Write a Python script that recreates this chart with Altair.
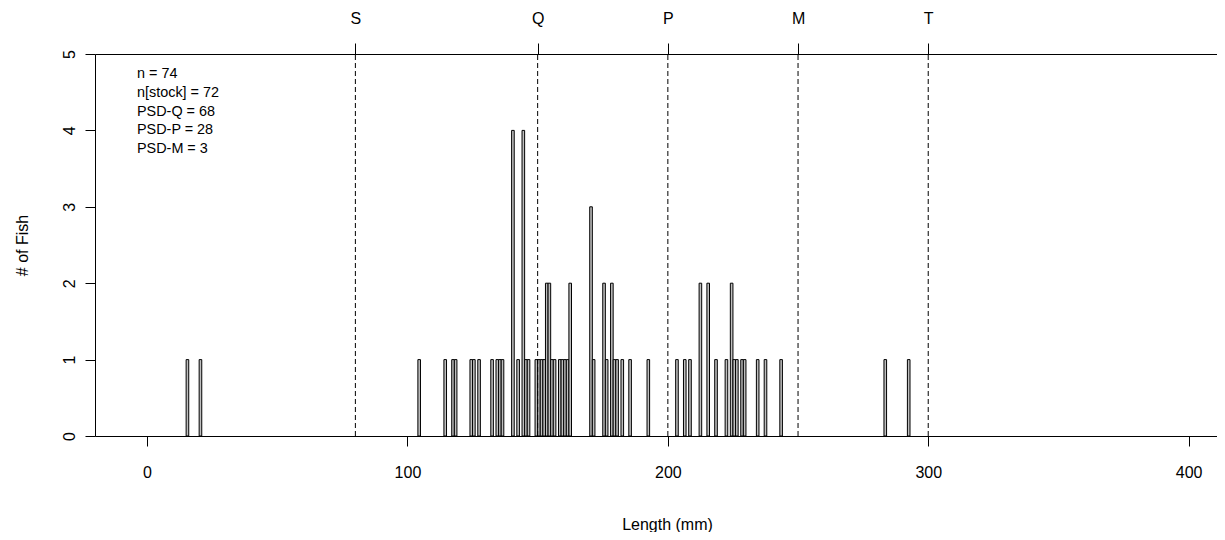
import altair as alt
import pandas as pd

# ---- data ----
bin_start = [15, 20, 104, 114, 117, 118, 124, 125, 127, 132, 134, 135, 136,
             140, 142, 144, 145, 146, 149, 150, 151, 152, 153, 154, 155, 156,
             158, 159, 160, 161, 162, 170, 171, 175, 176, 178, 179, 180, 182,
             185, 192, 203, 206, 208, 212, 215, 218, 222, 224, 225, 226, 228,
             229, 234, 237, 243, 283, 292]
fish_count = [1, 1, 1, 1, 1, 1, 1, 1, 1, 1, 1, 1, 1,
              4, 1, 4, 1, 1, 1, 1, 1, 1, 2, 2, 1, 1,
              1, 1, 1, 1, 2, 3, 1, 2, 1, 2, 1, 1, 1,
              1, 1, 1, 1, 1, 2, 2, 1, 1, 2, 1, 1, 1,
              1, 1, 1, 1, 1, 1]
psd_breaks = [80, 150, 200, 250, 300]
psd_letters = ["S", "Q", "P", "M", "T"]
stats_lines = ["n = 74", "n[stock] = 72", "PSD-Q = 68", "PSD-P = 28", "PSD-M = 3"]
x_ticks = [0, 100, 200, 300, 400]
y_ticks = [0, 1, 2, 3, 4, 5]

FONT = "Liberation Sans"
W, H = 1122, 382
x_scale = alt.Scale(domain=[-20.0, 410.9], nice=False, zero=False)
y_scale = alt.Scale(domain=[0, 5], nice=False, zero=True)

hist_df = pd.DataFrame({"lo": bin_start, "count": fish_count})
psd_df = pd.DataFrame({"brk": psd_breaks, "letter": psd_letters})
stats_df = pd.DataFrame({"t": ["\n".join(stats_lines)]})

label_map = "{" + ",".join(f"'{b}':'{l}'" for b, l in zip(psd_breaks, psd_letters)) + "}"

bars = alt.Chart(hist_df).transform_calculate(
    hi="datum.lo + 1", base="0"
).mark_rect(fill="#bebebe", stroke="black", strokeWidth=1).encode(
    x=alt.X("lo:Q", scale=x_scale,
            axis=alt.Axis(orient="bottom", values=x_ticks, title="Length (mm)",
                          tickSize=10, labelPadding=18, format="d",
                          titleX=572, titleY=88, titleBaseline="middle")),
    x2="hi:Q",
    y=alt.Y("count:Q", scale=y_scale,
            axis=alt.Axis(values=y_ticks, title="# of Fish", tickSize=10,
                          labelAngle=270, labelAlign="center", labelBaseline="bottom",
                          labelPadding=8, format="d",
                          titleX=-73, titleY=191, titleBaseline="middle")),
    y2="base:Q",
)

rules = alt.Chart(psd_df).transform_calculate(
    y0="0", y1="5"
).mark_rule(color="black", strokeWidth=1, strokeDash=[5, 3]).encode(
    x=alt.X("brk:Q", scale=x_scale,
            axis=alt.Axis(orient="top", values=psd_breaks, title=None,
                          tickSize=11, labelPadding=17,
                          labelExpr=label_map + "[datum.label]")),
    y=alt.Y("y0:Q", scale=y_scale),
    y2="y1:Q",
)

stats = alt.Chart(stats_df).mark_text(
    align="left", baseline="top", lineBreak="\n", lineHeight=18.75,
    fontSize=14.4, font=FONT, color="black"
).encode(x=alt.value(42), y=alt.value(13), text="t:N")

chart = alt.layer(bars, rules, stats).resolve_axis(x="independent").properties(
    width=W, height=H,
    autosize=alt.AutoSizeParams(type="none"),
    padding={"left": 87, "top": 46, "right": 0, "bottom": 96},
).configure_view(stroke=None).configure_axis(
    grid=False, domainColor="black", tickColor="black", labelColor="black",
    titleColor="black", labelFont=FONT, titleFont=FONT, labelFontSize=16,
    titleFontSize=16, titleFontWeight="normal", domainWidth=1, tickWidth=1,
    labelFlush=False, labelOverlap=False,
)

chart.save("out.html", embed_options={"renderer": "svg", "actions": False})
